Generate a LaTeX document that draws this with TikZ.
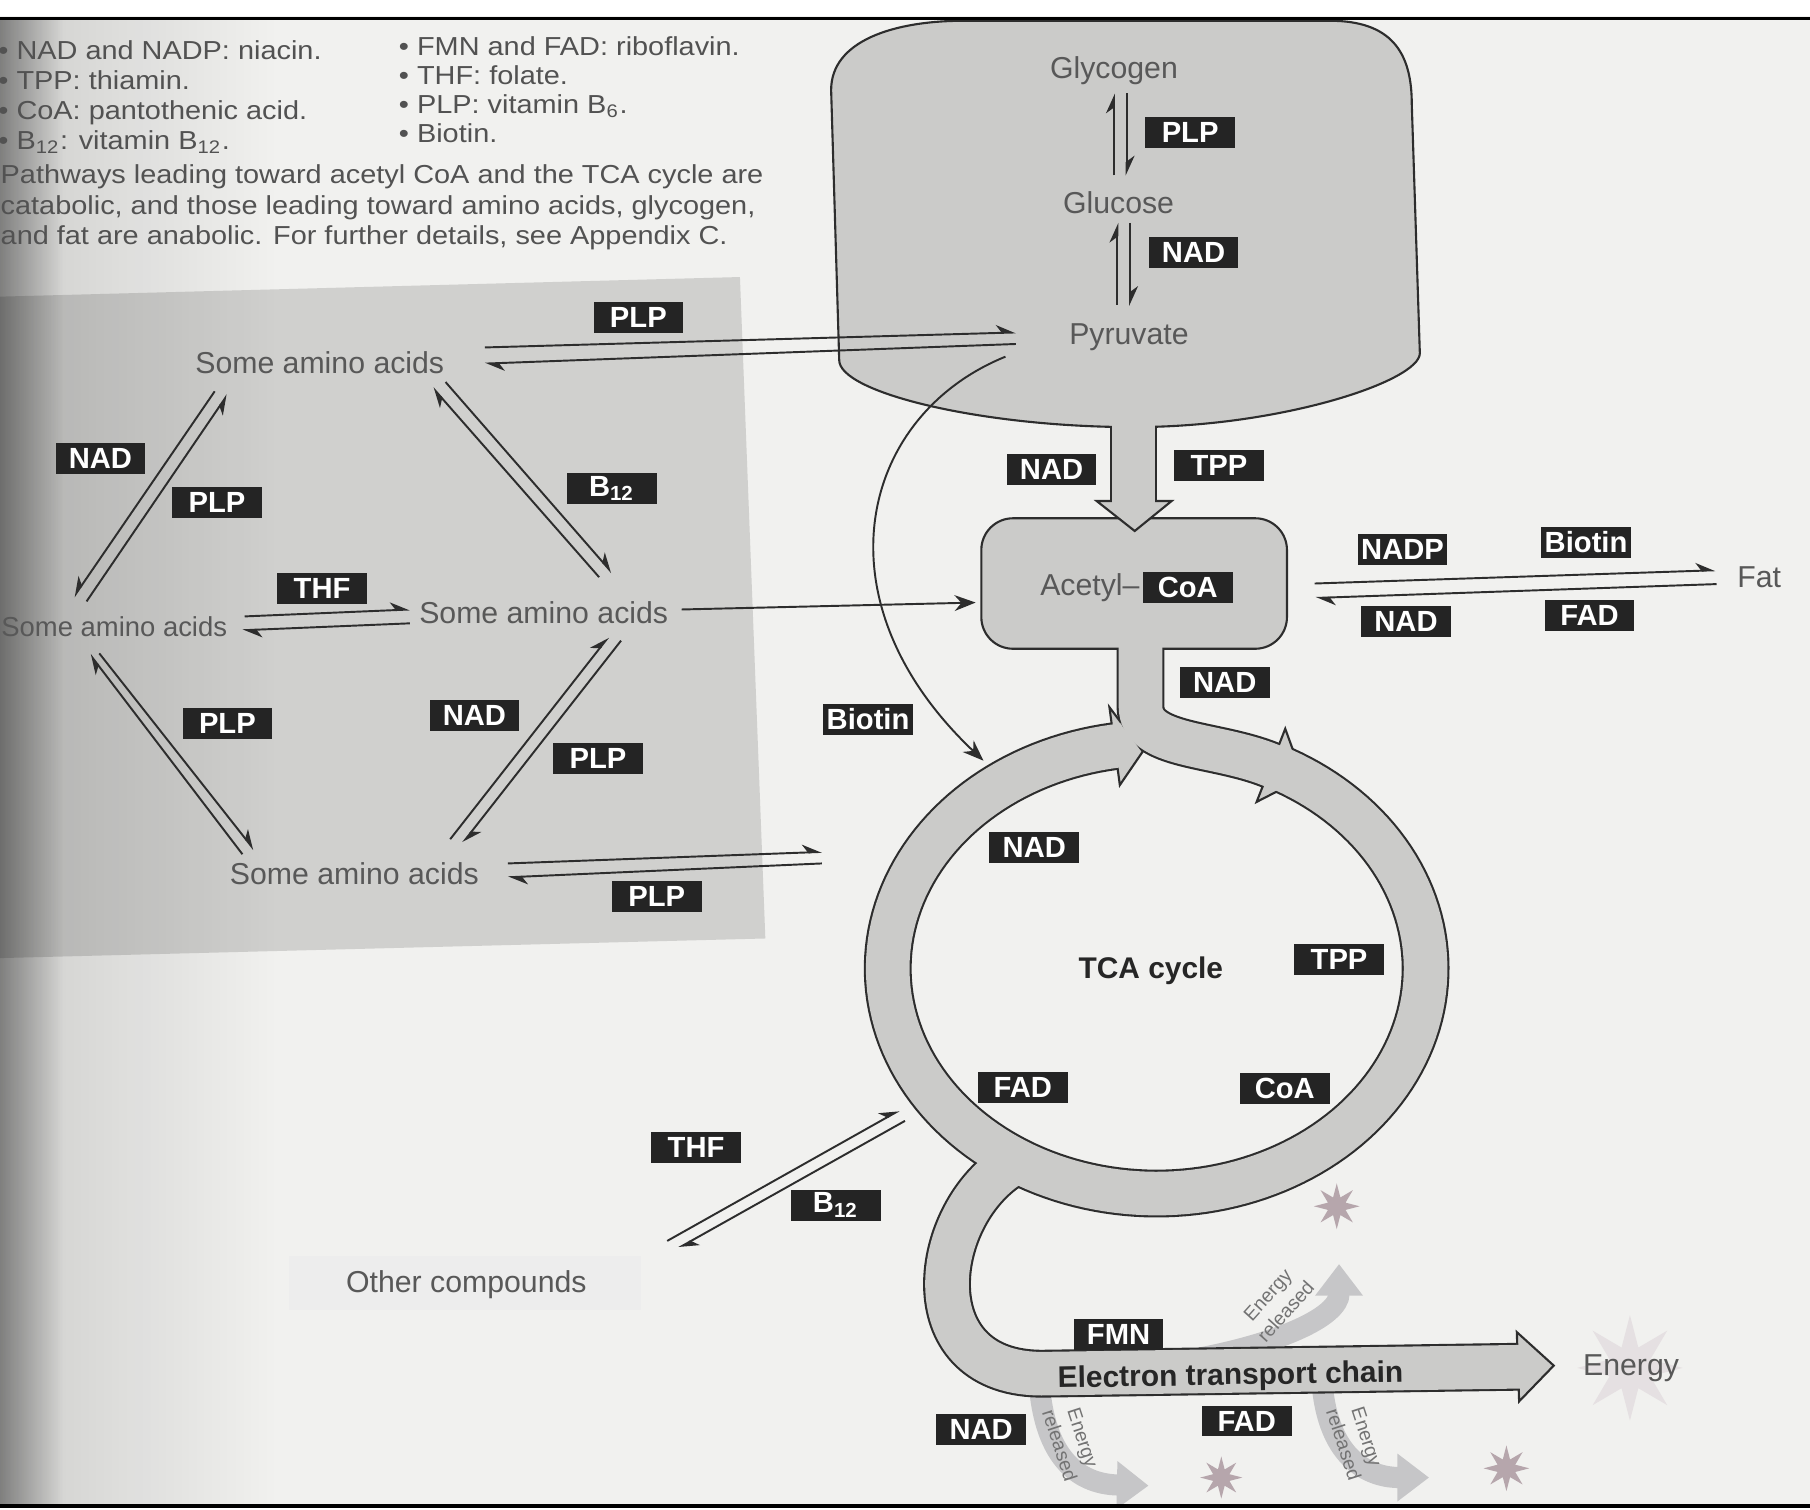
\documentclass[tikz,border=0pt]{standalone}
\usepackage{fontspec}
\setmainfont{Liberation Sans}
\newfontfamily\topfont[FakeStretch=1.11]{Liberation Sans}
\usetikzlibrary{arrows.meta,calc,shapes.geometric,fadings}
\definecolor{bg}{RGB}{241,241,239}
\definecolor{regiongray}{RGB}{208,208,206}
\definecolor{shapegray}{RGB}{203,203,201}
\definecolor{labbg}{RGB}{36,36,36}
\definecolor{txtgray}{RGB}{88,88,88}
\definecolor{edge}{RGB}{45,45,45}
\definecolor{swooshc}{RGB}{198,198,200}
\definecolor{starcol}{RGB}{182,166,172}
\newcommand{\fsz}[1]{\fontsize{#1}{#1}\selectfont}
\begin{document}
\begin{tikzpicture}[x=0.01154cm,y=-0.01154cm,
  lab/.style={fill=labbg,text=white,font=\fsz{8.3}\bfseries,minimum width=25.5pt,minimum height=8.8pt,inner sep=0.5pt},
  amino/.style={text=txtgray,font=\fsz{8.6},inner sep=1pt},
  topt/.style={text=black!68,anchor=north west,align=left,inner sep=0pt},
  thin/.style={draw=edge,line width=0.55pt},
  har/.style={thin,-{Stealth[harpoon,length=5pt,width=4.5pt]}},
  hars/.style={thin,-{Stealth[harpoon,swap,length=5pt,width=4.5pt]}},
  full/.style={thin,-{Stealth[length=6pt,width=4.5pt]}},
  bandout/.style={draw=edge,line width=13.6pt},
  bandin/.style={draw=shapegray,line width=12.4pt},
  headst/.style={fill=shapegray,draw=edge,line width=0.6pt,line join=miter},
  swoosh/.style={draw=swooshc,line width=6pt,-{Triangle[length=9pt,width=13pt]}},
  entxt/.style={text=black!55,font=\fontsize{5.5}{6.9}\selectfont,align=center,inner sep=0pt},
  burst/.style={star,star points=8,star point ratio=2.4,fill=starcol,inner sep=0pt,draw=none}
]
\useasboundingbox (0,0) rectangle (1568,1308);
% page
\fill[bg] (0,0) rectangle (1568,1308);
\fill[regiongray] (0,257) -- (641,240) -- (663,813) -- (0,830) -- cycle;
\fill[black!7] (250,1088) rectangle (555,1135);
\fill[black,path fading=east,fill opacity=0.38] (0,16) rectangle (55,1305);
\fill[black,path fading=east,fill opacity=0.14] (0,16) rectangle (240,1305);

% energy swooshes
\draw[swoosh] (1020,1180) .. controls (1110,1165) and (1160,1140) .. (1160,1095);
\draw[swoosh] (900,1195) .. controls (905,1275) and (945,1286) .. (995,1287);
\draw[swoosh] (1145,1195) .. controls (1150,1268) and (1190,1280) .. (1238,1280);

% glycogen bubble
\draw[fill=shapegray,draw=edge,line width=0.6pt]
  (720,78) .. controls (720,35) and (775,18) .. (835,18) -- (1152,18)
  .. controls (1205,18) and (1223,45) .. (1223,90) -- (1230,306)
  .. controls (1230,330) and (1110,370) .. (982,370)
  .. controls (850,370) and (727,340) .. (727,312) -- cycle;

% acetyl box
\node[draw=edge,fill=shapegray,line width=0.6pt,rounded corners=9pt,minimum width=86.9pt,minimum height=37.1pt,inner sep=0pt] (acbox) at (982.5,505.5) {};

% stem glycogen -> acetyl
\draw[bandout] (982,369) -- (982,434);
\draw[headst] (950,434) -- (983,460) -- (1015,434) -- cycle;
\draw[bandin] (982,362) -- (982,436);

% ring, stem, ETC outlines
\draw[bandout] plot[domain=97:424,samples=160] ({1002+233*cos(\x)},{839-195*sin(\x)});
\draw[bandout] (988,562) -- (988,612) .. controls (988,648) and (1052,643) .. (1101,663);
\draw[bandout] (874,1010) .. controls (805,1055) and (790,1192) .. (905,1190) -- (1316,1184);
% heads
\draw[headst] (961.1,612.7) -- (990,651) -- (970.1,680.1) -- cycle;
\draw[headst] (1113.4,631.3) -- (1128.9,674) -- (1088.6,694.7) -- cycle;
\draw[headst] (1314,1154) -- (1346,1183) -- (1316,1214) -- cycle;
% fills
\draw[bandin] plot[domain=97:424,samples=160] ({1002+233*cos(\x)},{839-195*sin(\x)});
\draw[bandin] (874,1010) .. controls (805,1055) and (790,1192) .. (905,1190) -- (1317,1184);
\draw[bandin] (988,555) -- (988,612) .. controls (988,648) and (1052,643) .. (1101,663) -- (1105.5,664.7);

% stars
\node[burst,minimum size=30pt,fill=starcol!35] (glow) at (1412,1185) {};
\node[burst,minimum size=13pt] (s1) at (1158,1045) {};
\node[burst,minimum size=12pt] (s2) at (1058,1280) {};
\node[burst,minimum size=13pt] (s3) at (1305,1272) {};

% top text
\node[topt,font=\topfont\fontsize{7.4}{8.5}\selectfont] (col1) at (-2,35)
  {• NAD and NADP: niacin.\\• TPP: thiamin.\\• CoA: pantothenic acid.\\• B\textsubscript{12}: vitamin B\textsubscript{12}.};
\node[topt,font=\topfont\fontsize{7.4}{8.3}\selectfont] (col2) at (345,31)
  {• FMN and FAD: riboflavin.\\• THF: folate.\\• PLP: vitamin B\textsubscript{6}.\\• Biotin.};
\node[topt,font=\topfont\fontsize{7.4}{8.7}\selectfont] (para) at (0,142)
  {Pathways leading toward acetyl CoA and the TCA cycle are\\catabolic, and those leading toward amino acids, glycogen,\\and fat are anabolic. For further details, see Appendix C.};

% main text nodes
\node[amino] (a1) at (277,314) {Some amino acids};
\node[amino,font=\fsz{7.8}] (a2) at (99,543) {Some amino acids};
\node[amino] (a3) at (471,531) {Some amino acids};
\node[amino] (a4) at (307,757) {Some amino acids};
\node[amino] (gly) at (965,61) {Glycogen};
\node[amino] (glu) at (969,176) {Glucose};
\node[amino] (pyr) at (978,292) {Pyruvate};
\node[amino] (fat) at (1524,500) {Fat};
\node[amino] (energy) at (1413,1185) {Energy};
\node[amino] (other) at (404,1113) {Other compounds};
\node[font=\fsz{8.5}\bfseries,text=black!85] (tca) at (997,841) {TCA cycle};
\node[font=\fsz{8.5}\bfseries,text=black!85,rotate=1] (etc) at (1066,1193) {Electron transport chain};
\node[entxt,rotate=48] (e1) at (1106,1129) {Energy\\released};
\node[entxt,rotate=-72] (e2) at (928,1249) {Energy\\released};
\node[entxt,rotate=-72] (e3) at (1174,1248) {Energy\\released};

% labels
\node[lab] (coa) at (1029,509) {CoA};
\node[amino,anchor=east,inner sep=0pt] (acetyl) at ([xshift=-0.6pt]coa.west) {Acetyl–};
\node[lab] (l1) at (87,397) {NAD};
\node[lab] (l2) at (188,435) {PLP};
\node[lab] (l3) at (530,423) {B\textsubscript{12}};
\node[lab] (l4) at (279,510) {THF};
\node[lab] (l5) at (197,627) {PLP};
\node[lab] (l6) at (411,620) {NAD};
\node[lab] (l7) at (518,657) {PLP};
\node[lab] (l8) at (553,275) {PLP};
\node[lab] (l9) at (569,777) {PLP};
\node[lab] (l10) at (1031,115) {PLP};
\node[lab] (l11) at (1034,219) {NAD};
\node[lab] (l12) at (911,407) {NAD};
\node[lab] (l13) at (1056,403) {TPP};
\node[lab] (l14) at (1215,476) {NADP};
\node[lab] (l15) at (1374,470) {Biotin};
\node[lab] (l16) at (1218,538) {NAD};
\node[lab] (l17) at (1377,533) {FAD};
\node[lab] (l18) at (1061,591) {NAD};
\node[lab] (l19) at (752,623) {Biotin};
\node[lab] (l20) at (896,734) {NAD};
\node[lab] (l21) at (1160,831) {TPP};
\node[lab] (l22) at (886,942) {FAD};
\node[lab] (l23) at (1113,943) {CoA};
\node[lab] (l24) at (603,994) {THF};
\node[lab] (l25) at (724,1044) {B\textsubscript{12}};
\node[lab] (l26) at (969,1156) {FMN};
\node[lab] (l27) at (850,1238) {NAD};
\node[lab] (l28) at (1080,1231) {FAD};

% free ends
\coordinate (tcaW) at (712,743);
\coordinate (ringNW) at (852,659);
\coordinate (ringSW) at (781,966);
\coordinate (ocNE) at (578,1075);

% connectors
\draw[har] ($(a1)+(143,-13)$) -- ($(pyr)+(-98,-4)$);
\draw[har] ($(pyr)+(-98,6)$) -- ($(a1)+(143,1)$);
\draw[hars] ($(a1)+(-91,25)$) -- ($(a2)+(-35,-26)$);
\draw[hars] ($(a2)+(-24,-22)$) -- ($(a1)+(-80,28)$);
\draw[har] ($(a1)+(109,17)$) -- ($(a3)+(59,-35)$);
\draw[har] ($(a3)+(48,-31)$) -- ($(a1)+(98,22)$);
\draw[har] ($(a2)+(113,-9)$) -- ($(a3)+(-116,-3)$);
\draw[har] ($(a3)+(-116,9)$) -- ($(a2)+(111,3)$);
\draw[har] ($(a4)+(-97,-17)$) -- ($(a2)+(-21,24)$);
\draw[har] ($(a2)+(-13,23)$) -- ($(a4)+(-87,-21)$);
\draw[har] ($(a4)+(83,-30)$) -- ($(a3)+(56,21)$);
\draw[har] ($(a3)+(67,24)$) -- ($(a4)+(94,-27)$);
\draw[har] ($(a4)+(133,-9)$) -- ($(tcaW)+(0,-5)$);
\draw[har] ($(tcaW)+(0,5)$) -- ($(a4)+(133,3)$);
\draw[full] ($(a3.east)+(8,-3)$) -- ($(acbox.west)+(-4,16.5)$);
\draw[full] ($(pyr)+(-107,17)$) .. controls (745,360) and (705,520) .. (ringNW);
\draw[har] ($(glu)+(-4,-24)$) -- ($(gly)+(0,20)$);
\draw[har] ($(gly)+(11,20)$) -- ($(glu)+(7,-24)$);
\draw[har] ($(pyr)+(-10,-28)$) -- ($(glu)+(-1,17)$);
\draw[har] ($(glu)+(10,17)$) -- ($(pyr)+(1,-27)$);
\draw[har] ($(acbox.east)+(23,0)$) -- ($(fat)+(-38,-6)$);
\draw[har] ($(fat)+(-37,6)$) -- ($(acbox.east)+(24,12.5)$);
\draw[har] (ocNE) -- ($(ringSW)+(-2,-4)$);
\draw[har] ($(ringSW)+(3,5)$) -- ($(ocNE)+(10,6)$);

% borders
\fill[white] (0,0) rectangle (1568,14);
\draw[line width=1.1pt] (0,16) -- (1568,16);
\fill[white] (0,1306.5) rectangle (1568,1308);
\draw[line width=1.1pt] (0,1305) -- (1568,1305);
\end{tikzpicture}
\end{document}
